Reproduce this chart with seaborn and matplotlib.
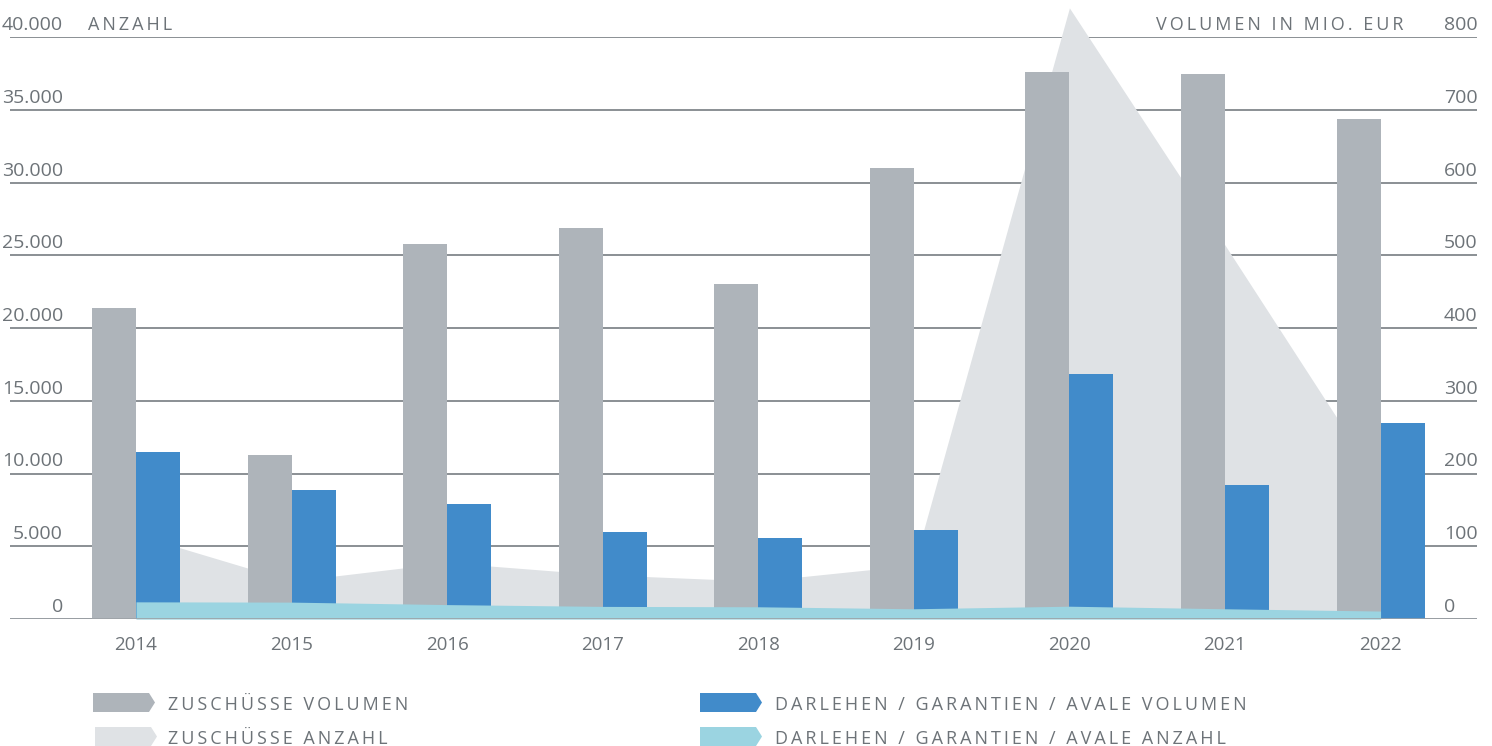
import numpy as np
import pandas as pd
import seaborn as sns
import matplotlib
matplotlib.use("Agg")
import matplotlib.pyplot as plt
from matplotlib.patches import Polygon
from matplotlib.transforms import offset_copy

# ---------------- data ----------------
years = ["2014", "2015", "2016", "2017", "2018", "2019", "2020", "2021", "2022"]
zuschuesse_volumen = [428, 226, 516, 538, 461, 620, 752, 749, 687]
darlehen_volumen = [229, 178, 158, 119, 112, 122, 337, 184, 269]
zuschuesse_anzahl = [5800, 2600, 3870, 3040, 2600, 3700, 42000, 25700, 9200]
darlehen_anzahl = [1180, 1160, 990, 866, 840, 703, 880, 703, 546]

left_ticks = [0, 5000, 10000, 15000, 20000, 25000, 30000, 35000, 40000]
left_tick_labels = ["0", "5.000", "10.000", "15.000", "20.000", "25.000", "30.000", "35.000", "40.000"]
right_ticks = [0, 100, 200, 300, 400, 500, 600, 700, 800]
right_tick_labels = ["0", "100", "200", "300", "400", "500", "600", "700", "800"]

series_volumen = ["Zuschüsse Volumen", "Darlehen / Garantien / Avale Volumen"]
left_title = "ANZAHL"
right_title = "VOLUMEN IN MIO. EUR"
legend_labels = ["ZUSCHÜSSE VOLUMEN", "ZUSCHÜSSE ANZAHL",
                 "DARLEHEN / GARANTIEN / AVALE VOLUMEN", "DARLEHEN / GARANTIEN / AVALE ANZAHL"]

# ---------------- style ----------------
C_GRAY = "#AEB4BA"
C_LIGHT = "#DFE2E5"
C_BLUE = "#418BCA"
C_CYAN = "#9BD4E1"
C_GRID = "#6B7177"
C_TEXT = "#6D7378"

sns.set_style("white")
plt.rcParams["font.family"] = ["Open Sans", "DejaVu Sans"]

W, H = 1492, 746
fig = plt.figure(figsize=(W / 100, H / 100), dpi=100)

def px_x(x):
    return x / W

def px_y(y):
    return 1 - y / H

ax = fig.add_axes([px_x(10), px_y(619), (1477 - 10) / W, (619 - 37) / H])
ax2 = ax.twinx()

# bars (volume, right axis)
df = pd.DataFrame({
    "year": years * 2,
    "value": zuschuesse_volumen + darlehen_volumen,
    "series": [series_volumen[0]] * len(years) + [series_volumen[1]] * len(years),
})
sns.barplot(data=df, x="year", y="value", hue="series", hue_order=series_volumen,
            palette=[C_GRAY, C_BLUE], saturation=1, width=0.566, gap=0,
            legend=False, ax=ax2, errorbar=None, linewidth=0)

pos = np.arange(len(years))

# grey area (count, left axis) behind bars
ax.fill_between(pos, 0, zuschuesse_anzahl, color=C_LIGHT, lw=0, clip_on=False, zorder=1)

# cyan area above bars, on an overlay axes sharing the left scale
ax3 = fig.add_axes(ax.get_position(), sharex=ax, sharey=ax)
ax3.patch.set_visible(False)
ax3.fill_between(pos, 0, darlehen_anzahl, color=C_CYAN, lw=0, zorder=1)
for s in ax3.spines.values():
    s.set_visible(False)
ax3.tick_params(left=False, bottom=False, labelleft=False, labelbottom=False)

ax.set_ylim(0, 40000)
ax2.set_ylim(0, 800)
ax.set_xlim(-0.81, 8.62)

ax.set_yticks(left_ticks)
ax2.set_yticks(right_ticks)
ax.grid(axis="y", color=C_GRID, lw=1.1)
ax.set_axisbelow(True)
ax.tick_params(axis="y", left=False, labelleft=False)
ax2.tick_params(axis="y", right=False, labelright=False)
for a in (ax, ax2):
    for s in a.spines.values():
        s.set_visible(False)
    a.set_xlabel("")
    a.set_ylabel("")

ax.set_xticks(pos)
ax.set_xticklabels(years)
ax.tick_params(axis="x", bottom=False, pad=9, labelsize=13.5, labelcolor=C_TEXT)

# bottom base line on top
ax3.axhline(0, color="#9CA1A6", lw=1.2, zorder=3)

# y tick labels placed above grid lines
lt = offset_copy(ax.get_yaxis_transform(), fig=fig, x=53, y=7, units="dots")
for v, lab in zip(left_ticks, left_tick_labels):
    ax.text(0, v, lab, transform=lt, ha="right", va="baseline", fontsize=14, color=C_TEXT)
rt = offset_copy(ax2.get_yaxis_transform(), fig=fig, x=-33, y=7, units="dots")
for v, lab in zip(right_ticks, right_tick_labels):
    ax2.text(1, v, lab, transform=rt, ha="left", va="baseline", fontsize=14, color=C_TEXT)

TS = "\u2009"  # thin space used as letter spacing

def spaced(s):
    return (TS + " " + TS).join(TS.join(w) for w in s.split(" "))

fig.text(px_x(88), px_y(30), spaced(left_title), ha="left", va="baseline",
         fontsize=13, color=C_TEXT)
fig.text(px_x(1404), px_y(30), spaced(right_title), ha="right", va="baseline",
         fontsize=13, color=C_TEXT)

# legend (arrow-shaped patches)
def arrow(x0, y0, x1, y1, tip, color):
    pts = [(x0, y0), (x1 - tip, y0), (x1, (y0 + y1) / 2), (x1 - tip, y1), (x0, y1)]
    poly = Polygon([(px_x(x), px_y(y)) for x, y in pts], closed=True,
                   transform=fig.transFigure, facecolor=color, edgecolor="none")
    fig.add_artist(poly)

legend_items = [
    (93, 693, C_GRAY, 168, legend_labels[0]),
    (95, 727, C_LIGHT, 168, legend_labels[1]),
    (700, 693, C_BLUE, 775, legend_labels[2]),
    (700, 727, C_CYAN, 775, legend_labels[3]),
]
for x0, y0, col, tx, lab in legend_items:
    arrow(x0, y0, x0 + 62, y0 + 19, 6, col)
    fig.text(px_x(tx), px_y(y0 + 9.5), spaced(lab), ha="left", va="center_baseline",
             fontsize=13, color=C_TEXT)

fig.savefig("out.png", dpi=100)
